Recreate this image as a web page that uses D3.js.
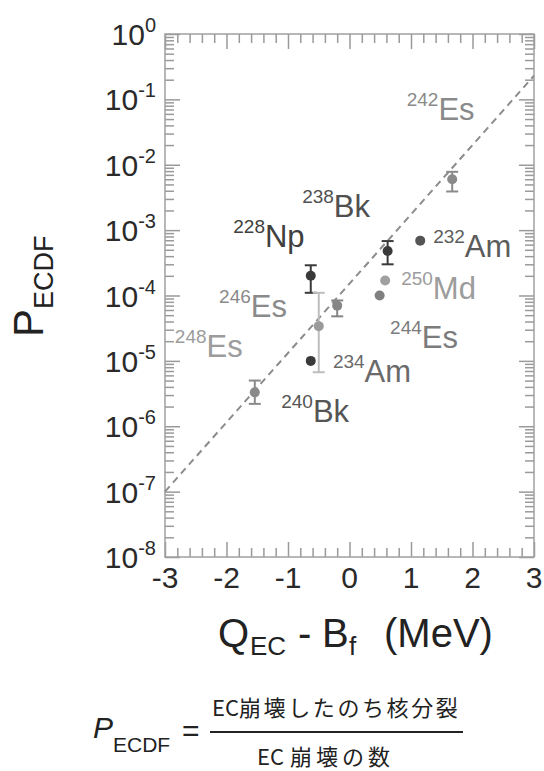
<!DOCTYPE html>
<html>
<head>
<meta charset="utf-8">
<script src="https://cdn.jsdelivr.net/npm/d3@7"></script>
<style>
  body { margin: 0; background: #fff; }
  svg { font-family: "Liberation Sans", Arial, sans-serif; }
</style>
</head>
<body>
<div id="chart"></div>
<script>
// nuclei: name, Q_EC - B_f (MeV), P_ECDF, error bar low / high
var nuclei = ['242Es', '238Bk', '232Am', '228Np', '250Md', '244Es', '246Es', '248Es', '234Am', '240Bk'];
var qValues = [1.67, 0.62, 1.15, -0.63, 0.58, 0.49, -0.20, -0.50, -0.63, -1.54];
var pValues = [6.0e-3, 4.8e-4, 6.9e-4, 2.0e-4, 1.7e-4, 1.0e-4, 7.0e-5, 3.4e-5, 1.0e-5, 3.3e-6];
var errLow = [3.9e-3, 3.0e-4, null, 1.1e-4, null, null, 4.8e-5, 6.7e-6, null, 2.2e-6];
var errHigh = [7.8e-3, 6.8e-4, null, 2.9e-4, null, null, 8.4e-5, 1.1e-4, null, 5.0e-6];

// dashed trend line end points
var trendQ = [-3, 3];
var trendP = [1.0e-7, 2.3e-1];

var xTicks = [-3, -2, -1, 0, 1, 2, 3];
var yExponents = [0, -1, -2, -3, -4, -5, -6, -7, -8];

// label anchors (in data units) and tones -- layout only
var labelAt = {
    '242Es': [0.93, 10 ** -1.315], '238Bk': [-0.77, 10 ** -2.80], '228Np': [-1.89, 10 ** -3.26],
    '232Am': [1.36, 10 ** -3.41], '250Md': [0.84, 10 ** -4.05], '246Es': [-2.12, 10 ** -4.33],
    '248Es': [-2.84, 10 ** -4.94], '244Es': [0.66, 10 ** -4.80], '234Am': [-0.27, 10 ** -5.32],
    '240Bk': [-1.11, 10 ** -5.93]
};
var pointTone = { '242Es': '#8a8a8a', '238Bk': '#3a3a3a', '232Am': '#555', '228Np': '#3a3a3a',
    '250Md': '#a0a0a0', '244Es': '#808080', '246Es': '#858585', '248Es': '#9a9a9a',
    '234Am': '#3a3a3a', '240Bk': '#8a8a8a' };
var barTone = { '248Es': '#bdbdbd' };
var labelTone = { '242Es': '#8a8a8a', '238Bk': '#505050', '228Np': '#404040', '232Am': '#5c5c5c',
    '250Md': '#9c9c9c', '246Es': '#8a8a8a', '248Es': '#9c9c9c', '244Es': '#7c7c7c',
    '234Am': '#6a6a6a', '240Bk': '#555' };

var width = 544, height = 771;
var plotL = 165, plotR = 534, plotT = 34, plotB = 557;

var svg = d3.select('#chart').append('svg')
    .attr('width', width)
    .attr('height', height);

var x = d3.scaleLinear().domain([-3, 3]).range([plotL, plotR]);
var y = d3.scaleLog().domain([1e-8, 1]).range([plotB, plotT]);

var tickColor = '#9a9a9a';

function isMajorY(d) {
    var e = Math.log10(d);
    return Math.abs(e - Math.round(e)) < 1e-6;
}
function isMajorX(d) {
    return Math.abs(d - Math.round(d)) < 1e-6;
}

var yTickVals = y.ticks();
var xTickVals = d3.range(-3, 3.0001, 0.2).map(function(d) { return Math.round(d * 10) / 10; });

// axes with inward ticks, then shorten minor ones
function styleAxis(g, major, inwardSign, horizontal) {
    g.select('.domain').remove();
    g.selectAll('.tick line')
        .attr('stroke', tickColor)
        .attr('stroke-width', 1.5)
        .each(function(d) {
            var len = (major(d) ? 15 : 9) * inwardSign;
            d3.select(this).attr(horizontal ? 'y2' : 'x2', len);
        });
    g.selectAll('.tick text').remove();
}

svg.append('g').attr('transform', 'translate(' + plotL + ',0)')
    .call(d3.axisLeft(y).tickValues(yTickVals).tickFormat(''))
    .call(styleAxis, isMajorY, 1, false);
svg.append('g').attr('transform', 'translate(' + plotR + ',0)')
    .call(d3.axisRight(y).tickValues(yTickVals).tickFormat(''))
    .call(styleAxis, isMajorY, -1, false);
svg.append('g').attr('transform', 'translate(0,' + plotB + ')')
    .call(d3.axisBottom(x).tickValues(xTickVals).tickFormat(''))
    .call(styleAxis, isMajorX, -1, true);
svg.append('g').attr('transform', 'translate(0,' + plotT + ')')
    .call(d3.axisTop(x).tickValues(xTickVals).tickFormat(''))
    .call(styleAxis, isMajorX, 1, true);

svg.append('rect')
    .attr('x', plotL).attr('y', plotT)
    .attr('width', plotR - plotL).attr('height', plotB - plotT)
    .attr('fill', 'none')
    .attr('stroke', '#a0a0a0')
    .attr('stroke-width', 1.5);

// tick labels
svg.append('g').selectAll('text')
    .data(xTicks)
    .enter().append('text')
    .attr('x', function(d) { return x(d); })
    .attr('y', plotB + 31)
    .attr('text-anchor', 'middle')
    .attr('font-size', 30)
    .attr('fill', '#2a2a2a')
    .text(function(d) { return d; });

var yLab = svg.append('g').selectAll('text')
    .data(yExponents)
    .enter().append('text')
    .attr('x', 156)
    .attr('y', function(d) { return y(Math.pow(10, d)) + 11; })
    .attr('text-anchor', 'end')
    .attr('fill', '#2a2a2a');
yLab.append('tspan').attr('font-size', 30).text('10');
yLab.append('tspan').attr('font-size', 20).attr('dy', -13)
    .text(function(d) { return d === 0 ? '0' : '-' + Math.abs(d); });

// axis titles
var xt = svg.append('text')
    .attr('y', 647)
    .attr('fill', '#222')
    .attr('font-size', 40);
xt.append('tspan').attr('x', 218).text('Q');
xt.append('tspan').attr('x', 250).attr('font-size', 26).attr('dy', 8).text('EC');
xt.append('tspan').attr('x', 298).attr('dy', -8).text('-');
xt.append('tspan').attr('x', 322).text('B');
xt.append('tspan').attr('x', 349).attr('font-size', 26).attr('dy', 8).text('f');
xt.append('tspan').attr('x', 384).attr('dy', -8).text('(MeV)');

var yt = svg.append('text')
    .attr('transform', 'translate(43,337) rotate(-90)')
    .attr('fill', '#222')
    .attr('font-size', 42);
yt.append('tspan').text('P');
yt.append('tspan').attr('font-size', 27).attr('dy', 10).text('ECDF');

// dashed trend line
svg.append('path')
    .datum(d3.zip(trendQ, trendP))
    .attr('fill', 'none')
    .attr('stroke', '#8c8c8c')
    .attr('stroke-width', 2)
    .attr('stroke-dasharray', '7,5')
    .attr('d', d3.line()
        .x(function(d) { return x(d[0]); })
        .y(function(d) { return y(d[1]); }));

// error bars and points
var pts = nuclei.map(function(n, i) {
    return { name: n, q: qValues[i], p: pValues[i], lo: errLow[i], hi: errHigh[i] };
});

var bars = svg.append('g').selectAll('g')
    .data(pts.filter(function(d) { return d.lo !== null; }))
    .enter().append('g')
    .attr('stroke', function(d) { return barTone[d.name] || pointTone[d.name]; })
    .attr('stroke-width', 2);
bars.append('line')
    .attr('x1', function(d) { return x(d.q); }).attr('x2', function(d) { return x(d.q); })
    .attr('y1', function(d) { return y(d.lo); }).attr('y2', function(d) { return y(d.hi); });
bars.append('line')
    .attr('x1', function(d) { return x(d.q) - 6; }).attr('x2', function(d) { return x(d.q) + 6; })
    .attr('y1', function(d) { return y(d.lo); }).attr('y2', function(d) { return y(d.lo); });
bars.append('line')
    .attr('x1', function(d) { return x(d.q) - 6; }).attr('x2', function(d) { return x(d.q) + 6; })
    .attr('y1', function(d) { return y(d.hi); }).attr('y2', function(d) { return y(d.hi); });

svg.append('g').selectAll('circle')
    .data(pts)
    .enter().append('circle')
    .attr('cx', function(d) { return x(d.q); })
    .attr('cy', function(d) { return y(d.p); })
    .attr('r', 5)
    .attr('fill', function(d) { return pointTone[d.name]; });

// nucleus labels
var labs = svg.append('g').selectAll('text')
    .data(pts)
    .enter().append('text')
    .attr('x', function(d) { return x(labelAt[d.name][0]); })
    .attr('y', function(d) { return y(labelAt[d.name][1]); })
    .attr('fill', function(d) { return labelTone[d.name]; });
labs.append('tspan')
    .attr('font-size', 19)
    .attr('dy', -14)
    .text(function(d) { return d.name.slice(0, 3); });
labs.append('tspan')
    .attr('font-size', 31)
    .attr('dy', 14)
    .text(function(d) { return d.name.slice(3); });

// definition under the chart
var cjk = '"Noto Sans CJK JP", "Liberation Sans", sans-serif';
var f = svg.append('g').attr('fill', '#222');
var pe = f.append('text').attr('x', 93).attr('y', 738);
pe.append('tspan').attr('font-size', 30).attr('font-style', 'italic').text('P');
pe.append('tspan').attr('font-size', 21).attr('dy', 14).text('ECDF');
f.append('text').attr('x', 182).attr('y', 741).attr('font-size', 30).text('=');
f.append('line')
    .attr('x1', 210).attr('x2', 463).attr('y1', 732).attr('y2', 732)
    .attr('stroke', '#222').attr('stroke-width', 2);

var num = f.append('text')
    .attr('x', 212).attr('y', 716)
    .attr('font-size', 22)
    .attr('font-family', cjk);
num.append('tspan').text('EC');
num.append('tspan').attr('letter-spacing', 2.6).text('崩壊したのち核分裂');

var den = f.append('text')
    .attr('x', 257).attr('y', 765)
    .attr('font-size', 22)
    .attr('font-family', cjk);
den.append('tspan').text('EC');
den.append('tspan').attr('dx', 6).attr('letter-spacing', 4).text('崩壊の数');
</script>
</body>
</html>
